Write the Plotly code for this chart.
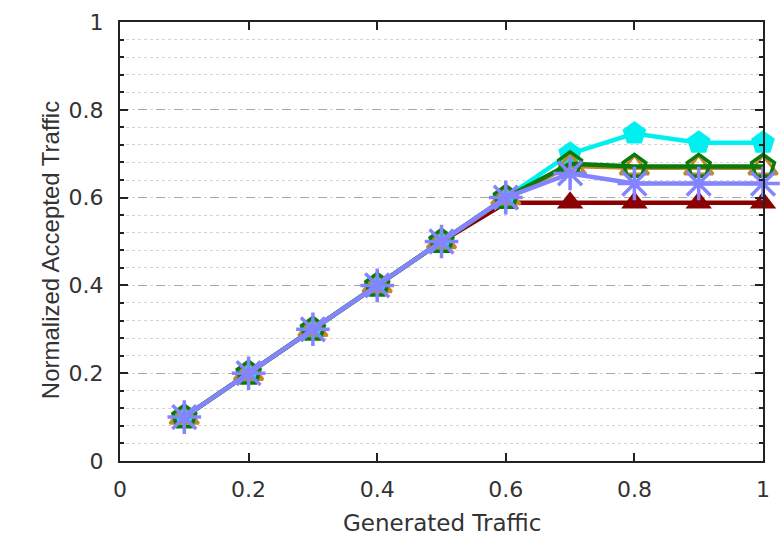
import plotly.graph_objects as go

# Generated traffic (x) and normalized accepted traffic per configuration
generated = [0.1, 0.2, 0.3, 0.4, 0.5, 0.6, 0.7, 0.8, 0.9, 1.0]
accepted_red = [0.1, 0.2, 0.3, 0.4, 0.5, 0.588, 0.588, 0.588, 0.588, 0.588]
accepted_cyan = [0.1, 0.2, 0.3, 0.4, 0.5, 0.6, 0.700, 0.746, 0.725, 0.725]
accepted_tan = [0.1, 0.2, 0.3, 0.4, 0.5, 0.6, 0.672, 0.668, 0.668, 0.668]
accepted_green = [0.1, 0.2, 0.3, 0.4, 0.5, 0.6, 0.677, 0.671, 0.671, 0.671]
accepted_blue = [0.1, 0.2, 0.3, 0.4, 0.5, 0.6, 0.655, 0.632, 0.632, 0.632]

x_ticks = [0, 0.2, 0.4, 0.6, 0.8, 1]
y_ticks = [0, 0.2, 0.4, 0.6, 0.8, 1]

series = [
    ("red", accepted_red, "#8b0000", "triangle-up", 23, 0),
    ("cyan", accepted_cyan, "#00f0f0", "pentagon", 25, 0),
    ("tan", accepted_tan, "#c08a28", "triangle-up-open", 25, 3),
    ("green", accepted_green, "#0a7a0a", "pentagon-open", 24, 3.5),
    ("blue", accepted_blue, "#8484ff", "asterisk-open", 28, 3.5),
]

fig = go.Figure()
for name, ys, color, symbol, size, mlw in series:
    fig.add_trace(go.Scatter(
        x=generated, y=ys, name=name, mode="lines+markers",
        line=dict(color=color, width=4.5),
        marker=dict(symbol=symbol, size=size, color=color,
                    line=dict(color=color, width=mlw)),
        cliponaxis=False,
    ))

tick_font = dict(family="DejaVu Sans, sans-serif", size=22, color="#333333")
xtitle_font = dict(family="DejaVu Sans, sans-serif", size=23, color="#333333")
ytitle_font = dict(family="Liberation Sans, Arial, sans-serif", size=24, color="#333333")

fig.update_layout(
    width=782, height=541,
    margin=dict(l=120, r=19, t=22, b=80, autoexpand=False),
    paper_bgcolor="white", plot_bgcolor="white",
    showlegend=False,
    font=tick_font,
)
fig.update_xaxes(
    range=[0, 1], tickvals=x_ticks, ticktext=[f"{v:g}" for v in x_ticks],
    showgrid=False, zeroline=False, automargin=False,
    showline=True, linecolor="#222222", linewidth=2, mirror="ticks",
    ticks="inside", ticklen=8, tickwidth=1.5, tickcolor="#222222",
    ticklabelstandoff=8, tickfont=tick_font,
    layer="above traces",
)
fig.update_yaxes(
    range=[0, 1], tickvals=y_ticks, ticktext=[f"{v:g}" for v in y_ticks],
    showgrid=True, gridcolor="#a8a8a8", gridwidth=1.2, griddash="dash",
    zeroline=False, automargin=False,
    showline=True, linecolor="#222222", linewidth=2, mirror="ticks",
    ticks="inside", ticklen=8, tickwidth=1.5, tickcolor="#222222",
    ticklabelstandoff=10, tickfont=tick_font,
    minor=dict(dtick=0.04, tick0=0, showgrid=True, gridcolor="#d4d4d4",
               gridwidth=1, griddash="dot", ticks="inside", ticklen=4,
               tickcolor="#222222"),
    layer="above traces",
)

# Axis titles placed as annotations
fig.add_annotation(
    text="Generated Traffic",
    xref="paper", yref="paper", x=0.5, y=-0.141,
    xanchor="center", yanchor="middle", showarrow=False,
    font=xtitle_font,
)
fig.add_annotation(
    text="Normalized Accepted Traffic", textangle=-90,
    xref="paper", yref="paper", x=-0.109, y=0.48,
    xanchor="center", yanchor="middle", showarrow=False,
    font=ytitle_font,
)

fig.write_html("out.html")
